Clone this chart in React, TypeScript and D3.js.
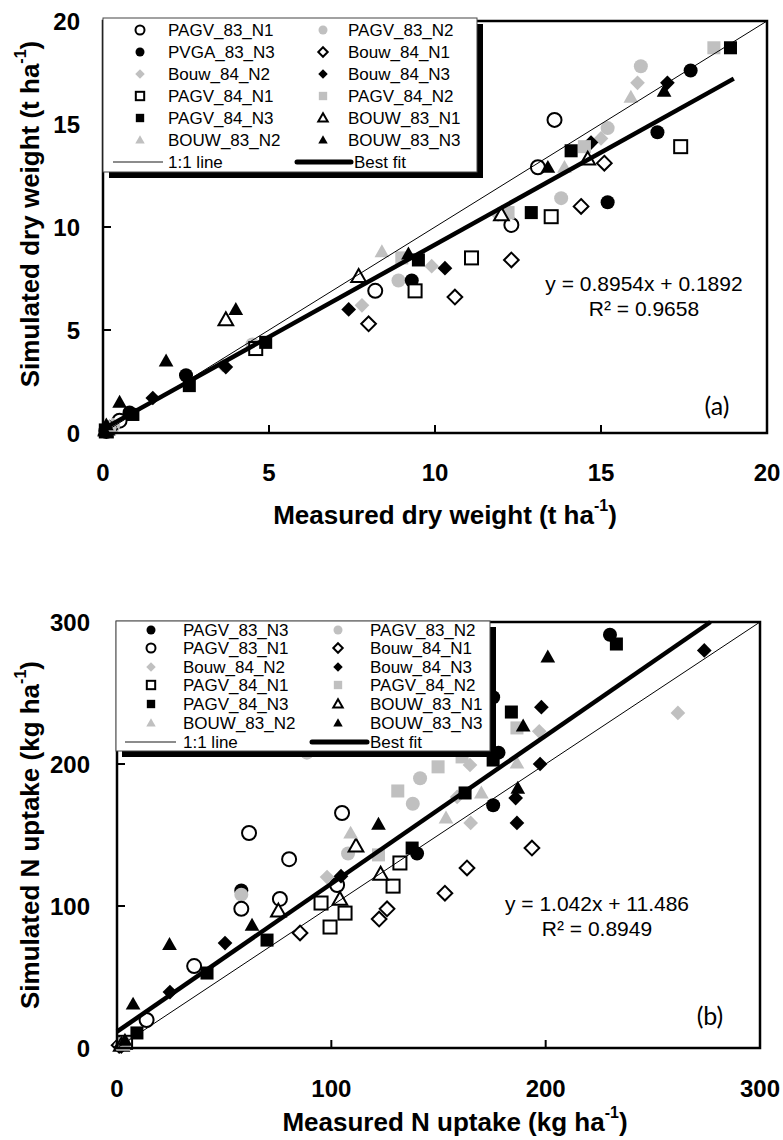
import React from "react";
import * as d3 from "d3";

type Pt = [number, number];

// ---- (a) dry weight, t ha-1 : [measured, simulated]
const dwPAGV83N1: Pt[] = [[13.6, 15.2], [13.1, 12.9], [12.3, 10.1], [8.2, 6.9], [0.5, 0.6], [0.1, 0.1]];
const dwPAGV83N2: Pt[] = [[16.2, 17.8], [15.2, 14.8], [13.8, 11.4], [8.9, 7.4], [4.5, 4.3], [0.3, 0.3]];
const dwPVGA83N3: Pt[] = [[17.7, 17.6], [16.7, 14.6], [15.2, 11.2], [9.3, 7.4], [2.5, 2.8], [0.8, 1.0]];
const dwBouw84N1: Pt[] = [[15.1, 13.1], [14.4, 11.0], [12.3, 8.4], [10.6, 6.6], [8.0, 5.3], [0.2, 0.2]];
const dwBouw84N2: Pt[] = [[16.1, 17.0], [15.0, 14.3], [11.9, 10.6], [9.9, 8.1], [7.8, 6.2], [3.6, 3.3], [0.3, 0.4]];
const dwBouw84N3: Pt[] = [[17.0, 17.0], [14.7, 14.1], [10.3, 8.0], [7.4, 6.0], [3.7, 3.2], [1.5, 1.7], [0.2, 0.3]];
const dwPAGV84N1: Pt[] = [[17.4, 13.9], [13.5, 10.5], [11.1, 8.5], [9.4, 6.9], [4.6, 4.1], [0.1, 0.1]];
const dwPAGV84N2: Pt[] = [[18.4, 18.7], [14.5, 13.9], [12.2, 10.7], [9.0, 8.5], [0.2, 0.2]];
const dwPAGV84N3: Pt[] = [[18.9, 18.7], [14.1, 13.7], [12.9, 10.7], [9.5, 8.4], [4.9, 4.4], [2.6, 2.3], [0.9, 0.9], [0.1, 0.1]];
const dwBOUW83N1: Pt[] = [[14.6, 13.3], [12.0, 10.6], [7.7, 7.6], [3.7, 5.5], [0.1, 0.2]];
const dwBOUW83N2: Pt[] = [[15.9, 16.3], [13.9, 12.9], [8.4, 8.8], [0.2, 0.3]];
const dwBOUW83N3: Pt[] = [[16.9, 16.6], [13.4, 12.9], [9.2, 8.7], [4.0, 6.0], [1.9, 3.5], [0.5, 1.5], [0.1, 0.4], [0.05, 0.1]];

// ---- (b) N uptake, kg ha-1 : [measured, simulated]
const nuPAGV83N3: Pt[] = [[230, 291], [175.5, 247], [178, 208], [175.5, 171], [140, 137], [58, 111], [3, 3]];
const nuPAGV83N2: Pt[] = [[88.6, 208], [141.4, 190], [138, 172], [107.8, 137], [58, 108], [2, 2]];
const nuPAGV83N1: Pt[] = [[105, 165.5], [61.6, 151.4], [80.3, 133], [102.7, 114.8], [58, 98], [76, 105], [36, 57.7], [13.8, 19.7]];
const nuBouw84N1: Pt[] = [[193.6, 140.8], [163.3, 126.8], [153, 109], [122.3, 90.8], [126, 98], [85.4, 81], [1, 2]];
const nuBouw84N2: Pt[] = [[261.7, 236], [197, 223], [164.7, 199.3], [158.7, 176.8], [165, 158.5], [98, 120.4], [2, 3]];
const nuBouw84N3: Pt[] = [[274, 280], [198, 240], [197.4, 200], [186, 176], [186.6, 158.5], [104.5, 121], [50.4, 73.9], [24.7, 39.4], [2, 1]];
const nuPAGV84N1: Pt[] = [[132, 130.3], [128.8, 114], [106.4, 95], [95.2, 102.1], [99.4, 85.2], [4, 4]];
const nuPAGV84N2: Pt[] = [[186.6, 225.4], [161, 205], [149.8, 198], [131, 181], [122, 136], [3, 3]];
const nuPAGV84N3: Pt[] = [[233, 284.5], [184, 236.6], [175.5, 202.8], [162.4, 179.6], [137.7, 140.8], [70, 76], [42, 52.8], [9.3, 10.6]];
const nuBOUW83N1: Pt[] = [[111.5, 142.3], [123, 122.5], [104, 104.9], [75.3, 96.5], [2, 2]];
const nuBOUW83N2: Pt[] = [[186.6, 200.7], [170, 179.6], [153.5, 162], [109, 151.4], [3, 2]];
const nuBOUW83N3: Pt[] = [[201, 275.4], [189.5, 226.8], [187, 183], [122, 157.7], [63, 86.6], [24.5, 73], [7.5, 31], [3.7, 5.6]];

const ticksA = [0, 5, 10, 15, 20];
const ticksB = [0, 100, 200, 300];
const fitA = { slope: 0.8954, intercept: 0.1892, r2: "0.9658", xEnd: 19.0 };
const fitB = { slope: 1.042, intercept: 11.486, r2: "0.8949", xEnd: 276.9 };

type Shape = "circle" | "square" | "diamond" | "triangle";
type Fill = "open" | "grey" | "black";
const GREY = "#c0c0c0";

const seriesA = [
  { name: "PAGV_83_N1", pts: dwPAGV83N1, shape: "circle", fill: "open" },
  { name: "PAGV_83_N2", pts: dwPAGV83N2, shape: "circle", fill: "grey" },
  { name: "PVGA_83_N3", pts: dwPVGA83N3, shape: "circle", fill: "black" },
  { name: "Bouw_84_N1", pts: dwBouw84N1, shape: "diamond", fill: "open" },
  { name: "Bouw_84_N2", pts: dwBouw84N2, shape: "diamond", fill: "grey" },
  { name: "Bouw_84_N3", pts: dwBouw84N3, shape: "diamond", fill: "black" },
  { name: "PAGV_84_N1", pts: dwPAGV84N1, shape: "square", fill: "open" },
  { name: "PAGV_84_N2", pts: dwPAGV84N2, shape: "square", fill: "grey" },
  { name: "PAGV_84_N3", pts: dwPAGV84N3, shape: "square", fill: "black" },
  { name: "BOUW_83_N1", pts: dwBOUW83N1, shape: "triangle", fill: "open" },
  { name: "BOUW_83_N2", pts: dwBOUW83N2, shape: "triangle", fill: "grey" },
  { name: "BOUW_83_N3", pts: dwBOUW83N3, shape: "triangle", fill: "black" },
] as { name: string; pts: Pt[]; shape: Shape; fill: Fill }[];

const seriesB = [
  { name: "PAGV_83_N3", pts: nuPAGV83N3, shape: "circle", fill: "black" },
  { name: "PAGV_83_N2", pts: nuPAGV83N2, shape: "circle", fill: "grey" },
  { name: "PAGV_83_N1", pts: nuPAGV83N1, shape: "circle", fill: "open" },
  { name: "Bouw_84_N1", pts: nuBouw84N1, shape: "diamond", fill: "open" },
  { name: "Bouw_84_N2", pts: nuBouw84N2, shape: "diamond", fill: "grey" },
  { name: "Bouw_84_N3", pts: nuBouw84N3, shape: "diamond", fill: "black" },
  { name: "PAGV_84_N1", pts: nuPAGV84N1, shape: "square", fill: "open" },
  { name: "PAGV_84_N2", pts: nuPAGV84N2, shape: "square", fill: "grey" },
  { name: "PAGV_84_N3", pts: nuPAGV84N3, shape: "square", fill: "black" },
  { name: "BOUW_83_N1", pts: nuBOUW83N1, shape: "triangle", fill: "open" },
  { name: "BOUW_83_N2", pts: nuBOUW83N2, shape: "triangle", fill: "grey" },
  { name: "BOUW_83_N3", pts: nuBOUW83N3, shape: "triangle", fill: "black" },
] as { name: string; pts: Pt[]; shape: Shape; fill: Fill }[];

const FONT = "'Liberation Sans', Arial, sans-serif";

function Marker({ shape, fill, x, y, s }: { shape: Shape; fill: Fill; x: number; y: number; s: number }) {
  const color = fill === "grey" ? GREY : fill === "black" ? "#000" : "#fff";
  const stroke = fill === "open" ? "#000" : "none";
  const sw = fill === "open" ? 2 : 0;
  if (shape === "circle") return <circle cx={x} cy={y} r={s} fill={color} stroke={stroke} strokeWidth={sw} />;
  if (shape === "square")
    return <rect x={x - s * 0.93} y={y - s * 0.93} width={s * 1.86} height={s * 1.86} fill={color} stroke={stroke} strokeWidth={sw} />;
  const d =
    shape === "diamond"
      ? `M${x},${y - s * 1.05}L${x + s * 1.05},${y}L${x},${y + s * 1.05}L${x - s * 1.05},${y}Z`
      : `M${x},${y - s * 1.05}L${x + s * 1.05},${y + s * 0.8}L${x - s * 1.05},${y + s * 0.8}Z`;
  return <path d={d} fill={color} stroke={stroke} strokeWidth={sw} strokeLinejoin="miter" />;
}

type PanelProps = {
  series: { name: string; pts: Pt[]; shape: Shape; fill: Fill }[];
  ticks: number[];
  max: number;
  box: { left: number; right: number; top: number; bottom: number };
  fit: { slope: number; intercept: number; r2: string; xEnd: number };
  eq: { x: number; y: number; text: string };
  tag: string;
  tagPos: [number, number];
  xTitle: string;
  yTitle: string;
  xTitlePos: [number, number];
  yTitlePos: [number, number];
  yLabelRight: number;
  xLabelY: number;
  legend: { x0: number; x1: number; y0: number; y1: number; rows: number[]; c1: number; t1: number; c2: number; t2: number; l1: [number, number]; l2: [number, number] };
};

function Panel(p: PanelProps) {
  const x = d3.scaleLinear().domain([0, p.max]).range([p.box.left, p.box.right]);
  const y = d3.scaleLinear().domain([0, p.max]).range([p.box.bottom, p.box.top]);
  const line = d3.line<Pt>().x((d) => x(d[0])).y((d) => y(d[1]));
  const fitPts: Pt[] = [[0, p.fit.intercept], [p.fit.xEnd, p.fit.intercept + p.fit.slope * p.fit.xEnd]];
  const L = p.legend;
  const inner = p.ticks.filter((t) => t > 0 && t < p.max);
  return (
    <g fontFamily={FONT}>
      {/* markers */}
      {p.series.map((s) =>
        s.pts.map((d, i) => <Marker key={s.name + i} shape={s.shape} fill={s.fill} x={x(d[0])} y={y(d[1])} s={7} />)
      )}
      <path d={line([[0, 0], [p.max, p.max]]) || ""} stroke="#000" strokeWidth={1} fill="none" />
      <path d={line(fitPts) || ""} stroke="#000" strokeWidth={4.5} fill="none" />
      {/* frame */}
      <rect x={p.box.left} y={p.box.top} width={p.box.right - p.box.left} height={p.box.bottom - p.box.top} fill="none" stroke="#000" strokeWidth={2.5} />
      {inner.map((t) => (
        <g key={"t" + t}>
          <line x1={x(t)} x2={x(t)} y1={p.box.bottom} y2={p.box.bottom - 8} stroke="#000" strokeWidth={2} />
          <line x1={p.box.left} x2={p.box.left + 8} y1={y(t)} y2={y(t)} stroke="#000" strokeWidth={2} />
        </g>
      ))}
      {p.ticks.map((t) => (
        <g key={"l" + t} fontWeight="bold" fontSize={24}>
          <text x={p.yLabelRight} y={y(t)} textAnchor="end" dominantBaseline="central">{t}</text>
          <text x={x(t)} y={p.xLabelY} textAnchor="middle" dominantBaseline="central">{t}</text>
        </g>
      ))}
      {/* equation */}
      <text x={p.eq.x} y={p.eq.y} textAnchor="middle" fontSize={21} dominantBaseline="central">{p.eq.text}</text>
      <text x={p.eq.x} y={p.eq.y + 25} textAnchor="middle" fontSize={21} dominantBaseline="central">R² = {p.fit.r2}</text>
      <text x={p.tagPos[0]} y={p.tagPos[1]} textAnchor="middle" fontSize={25} fontFamily="Lato, 'Open Sans', sans-serif" dominantBaseline="central">{p.tag}</text>
      {/* titles */}
      <text x={p.xTitlePos[0]} y={p.xTitlePos[1]} textAnchor="middle" fontWeight="bold" fontSize={26} dominantBaseline="central">
        {p.xTitle}
        <tspan fontSize={16} dy={-10}>-1</tspan>
        <tspan dy={10}>)</tspan>
      </text>
      <text transform={`translate(${p.yTitlePos[0]},${p.yTitlePos[1]}) rotate(-90)`} textAnchor="middle" fontWeight="bold" fontSize={26} dominantBaseline="central">
        {p.yTitle}
        <tspan fontSize={16} dy={-10}>-1</tspan>
        <tspan dy={10}>)</tspan>
      </text>
      {/* legend */}
      <rect x={L.x0 + 6} y={L.y0 + 6} width={L.x1 - L.x0} height={L.y1 - L.y0} fill="#000" />
      <rect x={L.x0} y={L.y0} width={L.x1 - L.x0} height={L.y1 - L.y0} fill="#fff" stroke="#444" strokeWidth={1} />
      {p.series.map((s, i) => {
        const col = i % 2;
        const row = Math.floor(i / 2);
        const cy = L.rows[row];
        return (
          <g key={"lg" + s.name}>
            <Marker shape={s.shape} fill={s.fill} x={col ? L.c2 : L.c1} y={cy} s={4.5} />
            <text x={col ? L.t2 : L.t1} y={cy} fontSize={17} dominantBaseline="central">{s.name}</text>
          </g>
        );
      })}
      <line x1={L.l1[0]} x2={L.l1[1]} y1={L.rows[6]} y2={L.rows[6]} stroke="#666" strokeWidth={1.5} />
      <text x={L.t1} y={L.rows[6]} fontSize={17} dominantBaseline="central">1:1 line</text>
      <line x1={L.l2[0]} x2={L.l2[1]} y1={L.rows[6]} y2={L.rows[6]} stroke="#000" strokeWidth={5} strokeLinecap="round" />
      <text x={L.l2[1] + 3} y={L.rows[6]} fontSize={17} dominantBaseline="central">Best fit</text>
    </g>
  );
}

export default function App() {
  return (
    <svg width={783} height={1140} style={{ position: "absolute", left: 0, top: 0, background: "#fff" }}>
      <Panel
        series={seriesA}
        ticks={ticksA}
        max={20}
        box={{ left: 103, right: 767, top: 21, bottom: 433 }}
        fit={fitA}
        eq={{ x: 644, y: 283, text: "y = 0.8954x + 0.1892" }}
        tag="(a)"
        tagPos={[717, 405]}
        xTitle="Measured dry weight (t ha"
        yTitle="Simulated dry weight (t ha"
        xTitlePos={[445, 515]}
        yTitlePos={[30, 214]}
        yLabelRight={80}
        xLabelY={472}
        legend={{ x0: 103, x1: 477, y0: 18, y1: 172, rows: [30, 52, 74, 96, 118, 140, 162], c1: 140, t1: 168, c2: 323, t2: 348, l1: [113, 163], l2: [297, 351] }}
      />
      <Panel
        series={seriesB}
        ticks={ticksB}
        max={300}
        box={{ left: 117, right: 760, top: 622, bottom: 1048 }}
        fit={fitB}
        eq={{ x: 597, y: 903, text: "y = 1.042x + 11.486" }}
        tag="(b)"
        tagPos={[710, 1015]}
        xTitle="Measured N uptake (kg ha"
        yTitle="Simulated N uptake (kg ha"
        xTitlePos={[455, 1122]}
        yTitlePos={[30, 835]}
        yLabelRight={90}
        xLabelY={1088}
        legend={{ x0: 116, x1: 490, y0: 621, y1: 751, rows: [630, 648, 667, 685, 704, 723, 742], c1: 151, t1: 183, c2: 338, t2: 370, l1: [125, 176], l2: [312, 367] }}
      />
    </svg>
  );
}
